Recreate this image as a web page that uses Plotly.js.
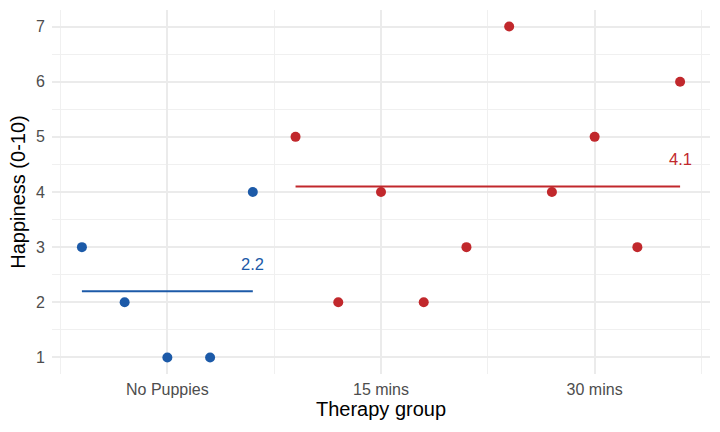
<!DOCTYPE html>
<html><head><meta charset="utf-8">
<script src="https://cdn.plot.ly/plotly-3.0.1.min.js"></script>
<style>html,body{margin:0;padding:0;background:#fff}#chart{width:720px;height:432px}</style>
</head><body><div id="chart"></div>
<script>
const categories = ["No Puppies", "15 mins", "30 mins"];
const participantGroup = ["No Puppies","No Puppies","No Puppies","No Puppies","No Puppies",
  "15 mins","15 mins","15 mins","15 mins","15 mins",
  "30 mins","30 mins","30 mins","30 mins","30 mins"];
const happiness = [3, 2, 1, 1, 4, 5, 2, 4, 2, 3, 7, 4, 5, 3, 6];
const baseline = ["No Puppies"];
const blue = "#1c5aa8", red = "#c1282c";

// participant order -> x position (evenly spaced around category centres)
const xPos = happiness.map((_, i) => 0.6 + 0.2 * i);
const isBase = participantGroup.map(g => baseline.includes(g));

function subset(flag){
  const xs=[], ys=[];
  happiness.forEach((v,i)=>{ if(isBase[i]===flag){ xs.push(xPos[i]); ys.push(v);} });
  return {xs, ys};
}
const b = subset(true), t = subset(false);
const mean = a => a.reduce((s,v)=>s+v,0)/a.length;
const mb = mean(b.ys), mt = mean(t.ys);

const traces = [
  {x:[b.xs[0], b.xs[b.xs.length-1]], y:[mb, mb], mode:"lines", line:{color:blue, width:2}, hoverinfo:"skip"},
  {x:[t.xs[0], t.xs[t.xs.length-1]], y:[mt, mt], mode:"lines", line:{color:red, width:2}, hoverinfo:"skip"},
  {x:b.xs, y:b.ys, mode:"markers", marker:{color:blue, size:10}},
  {x:t.xs, y:t.ys, mode:"markers", marker:{color:red, size:10}}
];

const layout = {
  width:720, height:432, showlegend:false,
  paper_bgcolor:"#fff", plot_bgcolor:"#fff",
  margin:{l:52, r:10, t:10, b:58},
  font:{family:"Liberation Sans, Arial, sans-serif", color:"#4d4d4d", size:16},
  xaxis:{
    range:[0.46, 3.54], tickmode:"array", tickvals:[1,2,3], ticktext:categories,
    showgrid:true, gridcolor:"#ebebeb", gridwidth:2, zeroline:false, showline:false,
    ticks:"", ticklen:0, ticklabelstandoff:4, tickfont:{size:16, color:"#4d4d4d"},
    minor:{tickmode:"array", tickvals:[0.5,1.5,2.5,3.5], showgrid:true, gridcolor:"#f0f0f0", gridwidth:1, ticks:""},
    title:{text:"Therapy group", font:{size:20, color:"#000"}, standoff:1}
  },
  yaxis:{
    range:[0.7, 7.3], tickmode:"linear", tick0:1, dtick:1,
    showgrid:true, gridcolor:"#ebebeb", gridwidth:2, zeroline:false, showline:false,
    ticks:"", ticklabelstandoff:6, tickfont:{size:16, color:"#4d4d4d"},
    minor:{tick0:0.5, dtick:1, showgrid:true, gridcolor:"#f0f0f0", gridwidth:1, ticks:""},
    title:{text:"Happiness (0-10)", font:{size:20, color:"#000"}, standoff:5}
  },
  annotations:[
    {x:b.xs[b.xs.length-1], y:mb+0.5, text:mb.toFixed(1), showarrow:false, font:{color:blue, size:16.5}, xanchor:"center", yanchor:"middle"},
    {x:t.xs[t.xs.length-1], y:mt+0.5, text:mt.toFixed(1), showarrow:false, font:{color:red, size:16.5}, xanchor:"center", yanchor:"middle"}
  ]
};
Plotly.newPlot("chart", traces, layout, {displayModeBar:false, staticPlot:true});
</script></body></html>
